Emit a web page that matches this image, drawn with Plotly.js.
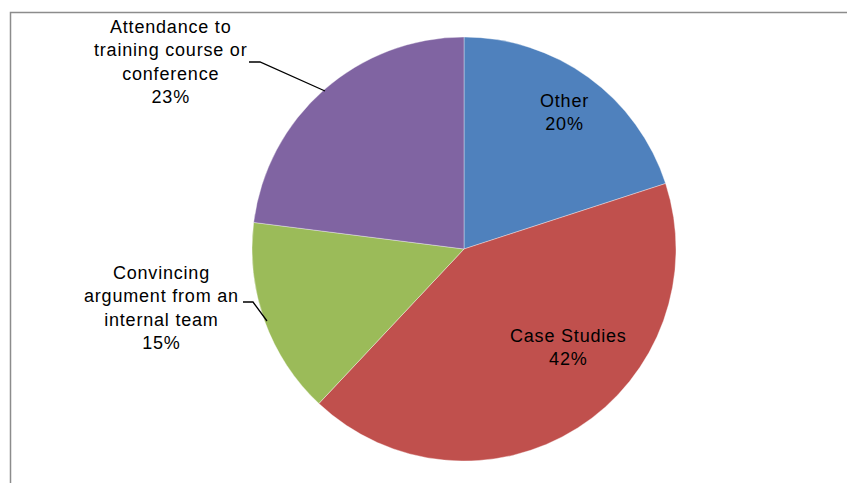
<!DOCTYPE html>
<html>
<head>
<meta charset="utf-8">
<script src="https://cdn.plot.ly/plotly-3.0.1.min.js"></script>
<style>
  html, body { margin: 0; padding: 0; background: #ffffff; }
  #chart { width: 847px; height: 483px; }
  .annotation-text { letter-spacing: 0.8px; }
</style>
</head>
<body>
<div id="chart"></div>
<script>
// ---- data ----
const categories = ["Other", "Case Studies", "Convincing argument from an internal team", "Attendance to training course or conference"];
const values = [20, 42, 15, 23];
const displayLabels = ["Other", "Case Studies", "Convincing<br>argument from an<br>internal team", "Attendance to<br>training course or<br>conference"];
const colors = ["#4F81BD", "#C0504D", "#9BBB59", "#8064A2"];

// ---- layout helpers (pixel -> paper) ----
const W = 847, H = 483;
const px = x => x / W;
const py = y => 1 - y / H;

// label placement (pixels) - layout only
const labelPos = [[564, 112], [568, 347], [161, 308], [170, 62]];
const leaders = [null, null,
  [[243, 302], [253, 302], [267, 321]],
  [[249, 62], [260, 62], [325, 91]]
];

const total = values.reduce((a, b) => a + b, 0);

const trace = {
  type: "pie",
  labels: categories,
  values: values,
  sort: false,
  direction: "clockwise",
  rotation: 0,
  marker: { colors: colors, line: { color: "rgba(255,255,255,0.6)", width: 0.6 } },
  textinfo: "none",
  hoverinfo: "label+percent",
  showlegend: false,
  domain: { x: [px(252), px(676)], y: [py(461), py(37)] }
};

const annotations = categories.map((c, i) => ({
  xref: "paper", yref: "paper",
  x: px(labelPos[i][0]), y: py(labelPos[i][1]),
  xanchor: "center", yanchor: "middle",
  showarrow: false,
  align: "center",
  text: displayLabels[i] + "<br>" + Math.round(values[i] / total * 100) + "%",
  font: { family: "Liberation Sans, Arial, sans-serif", size: 18, color: "#000000" }
}));

const shapes = [{
  type: "rect", xref: "paper", yref: "paper",
  x0: px(10.5), y0: py(12.5), x1: 1.2, y1: -0.2,
  line: { color: "#8c8c8c", width: 1.5 }, fillcolor: "rgba(0,0,0,0)"
}];
leaders.forEach(pts => {
  if (!pts) return;
  const path = pts.map((p, k) => (k === 0 ? "M" : "L") + px(p[0]) + "," + py(p[1])).join(" ");
  shapes.push({ type: "path", xref: "paper", yref: "paper", path: path, line: { color: "#000000", width: 1.3 } });
});

const layout = {
  width: W, height: H,
  margin: { l: 0, r: 0, t: 0, b: 0 },
  paper_bgcolor: "#ffffff",
  plot_bgcolor: "#ffffff",
  annotations: annotations,
  shapes: shapes
};

Plotly.newPlot("chart", [trace], layout, { displayModeBar: false, staticPlot: true });
</script>
</body>
</html>
